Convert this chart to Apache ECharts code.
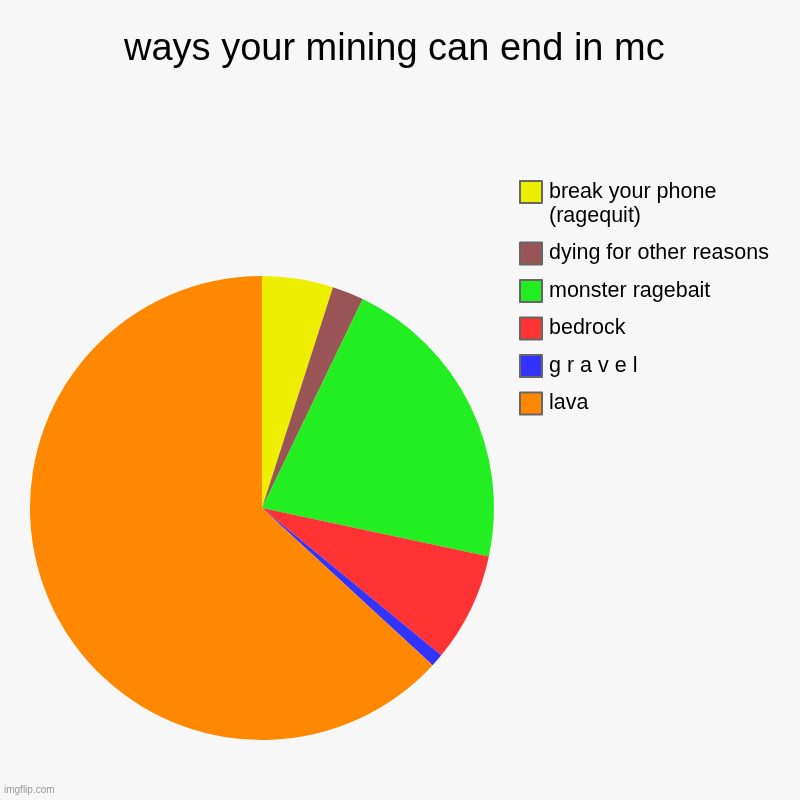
<!DOCTYPE html>
<html>
<head>
<meta charset="utf-8">
<script src="https://cdn.jsdelivr.net/npm/echarts@6/dist/echarts.min.js"></script>
<style>
html,body{margin:0;padding:0;background:#f7f7f7;}
#chart{width:800px;height:800px;}
</style>
</head>
<body>
<div id="chart"></div>
<script>
// data (share of the pie, in %)
var names=['break your phone\n(ragequit)','dying for other reasons','monster ragebait','bedrock','g r a v e l','lava'];
var values=[4.95,2.2,21.2,7.6,0.9,63.15];
var colors=['#eeee00','#995555','#22ee22','#ff3333','#3333ff','#ff8800'];

var dom=echarts.init(document.getElementById('chart'));
var data=[];
for(var i=0;i<names.length;i++){
	data.push({name:names[i],value:values[i],itemStyle:{color:colors[i]}});
}
var option={
	backgroundColor:'#f7f7f7',
	animation:false,
	title:{
		text:'ways your mining can end in mc',
		left:119,
		top:26,
		textStyle:{fontFamily:'Arial, Liberation Sans',fontSize:38,fontWeight:'normal',color:'#000'}
	},
	graphic:[{
		type:'text',left:4,top:785,
		style:{text:'imgflip.com',fontFamily:'Arial, Liberation Sans',fontSize:10,fill:'#999'}
	}],
	legend:{
		orient:'vertical',
		left:514,
		top:151,
		icon:'rect',
		itemWidth:22,
		itemHeight:22,
		itemGap:13.5,
		itemStyle:{borderColor:'#666',borderWidth:2},
		textStyle:{fontFamily:'Arial, Liberation Sans',fontSize:21.5,color:'#000',lineHeight:24,padding:[0,0,0,2]},
		// multi line name: keep first line level with its box
		formatter:function(name){
			return name.indexOf('\n')>-1 ? '\n'+name : name;
		},
		data:names
	},
	series:[{
		type:'pie',
		center:[262,508],
		radius:232,
		startAngle:90,
		clockwise:true,
		label:{show:false},
		labelLine:{show:false},
		emphasis:{disabled:true},
		data:data
	}]
};
dom.setOption(option);
</script>
</body>
</html>
